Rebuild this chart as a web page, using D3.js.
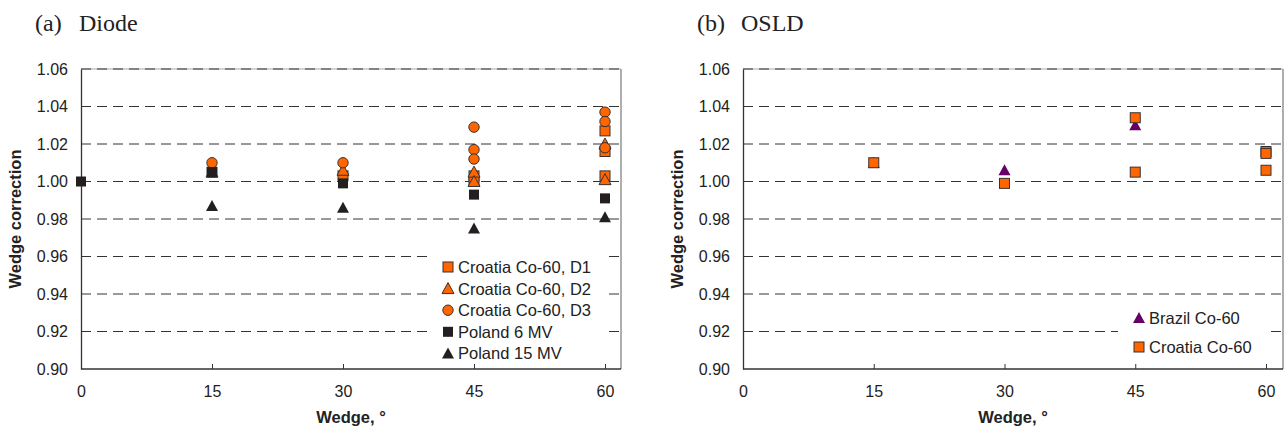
<!DOCTYPE html>
<html><head><meta charset="utf-8">
<script src="https://cdn.jsdelivr.net/npm/d3@7"></script>
<style>body{margin:0;background:#fff}svg{display:block}</style>
</head><body>
<svg id="c" width="1288" height="437"></svg>
<script>
// ---- data ----
const xTicks = [0, 15, 30, 45, 60];
const yTicks = [0.90, 0.92, 0.94, 0.96, 0.98, 1.00, 1.02, 1.04, 1.06];
// Diode panel (wedge angle, correction)
const diodeD1 = [[15,1.005],[30,1.003],[45,1.003],[45,1.000],[60,1.027],[60,1.016],[60,1.003]];
const diodeD2 = [[15,1.005],[30,1.006],[45,1.005],[45,1.000],[60,1.020],[60,1.001]];
const diodeD3 = [[15,1.010],[30,1.010],[45,1.029],[45,1.017],[45,1.012],[60,1.037],[60,1.032],[60,1.018]];
const poland6 = [[0,1.000],[15,1.005],[30,0.999],[45,0.993],[60,0.991]];
const poland15 = [[15,0.987],[30,0.986],[45,0.975],[60,0.981]];
// OSLD panel
const brazilOSLD = [[15,1.010],[30,1.006],[45,1.030]];
const croatiaOSLD = [[15,1.010],[30,0.999],[45,1.034],[45,1.005],[60,1.016],[60,1.015],[60,1.006]];
const diodeLabels = ["Croatia Co-60, D1","Croatia Co-60, D2","Croatia Co-60, D3","Poland 6 MV","Poland 15 MV"];
const osldLabels = ["Brazil Co-60","Croatia Co-60"];

const ORANGE = "#ff6600", BLACK = "#231f20", PURPLE = "#660066", EDGE = "#3a3030";
const svg = d3.select("#c");

function marker(g, shape, fill, stroke, x, y) {
  if (shape === "square") {
    g.append("rect").attr("x", x-5).attr("y", y-5).attr("width", 10).attr("height", 10)
      .attr("fill", fill).attr("stroke", stroke || "none").attr("stroke-width", 1);
  } else if (shape === "circle") {
    g.append("circle").attr("cx", x).attr("cy", y).attr("r", 5.2)
      .attr("fill", fill).attr("stroke", stroke || "none").attr("stroke-width", 1);
  } else {
    g.append("path").attr("d", `M${x},${y-6}L${x+6},${y+5}L${x-6},${y+5}Z`)
      .attr("fill", fill).attr("stroke", stroke || "none").attr("stroke-width", 1);
  }
}

function panel(cfg) {
  const x = d3.scaleLinear().domain([0, 60]).range([cfg.x0, cfg.x60]);
  const y = d3.scaleLinear().domain([0.90, 1.06]).range([369, 69]);
  const g = svg.append("g");
  const right = cfg.right;
  // frame (light) right & top
  g.append("line").attr("x1", right).attr("x2", right).attr("y1", y(1.06)).attr("y2", y(0.90)).attr("stroke", "#777").attr("stroke-width", 1.2);
  g.append("line").attr("x1", cfg.x0).attr("x2", right).attr("y1", y(1.06)).attr("y2", y(1.06)).attr("stroke", "#aaa").attr("stroke-width", 1.2);
  // gridlines
  g.selectAll(".grid").data(yTicks.filter(d => d > 0.9001)).enter().append("line")
    .attr("x1", cfg.x0).attr("x2", right).attr("y1", d => y(d)).attr("y2", d => y(d))
    .attr("stroke", "#333").attr("stroke-width", 1).attr("stroke-dasharray", "10,6");
  // legend background
  g.append("rect").attr("x", cfg.legBox[0]).attr("y", cfg.legBox[1]).attr("width", cfg.legBox[2]).attr("height", cfg.legBox[3]).attr("fill", "#fff");
  // axes
  const ya = d3.axisLeft(y).tickValues(yTicks).tickFormat(d3.format(".2f")).tickSize(0).tickPadding(13);
  const yg = g.append("g").attr("transform", `translate(${cfg.x0},0)`).call(ya);
  yg.select(".domain").attr("stroke", "#333").attr("stroke-width", 1.3);
  yg.selectAll("text").attr("font-family", "Liberation Sans, Arial, sans-serif").attr("font-size", 16).attr("fill", "#222");
  const xa = d3.axisBottom(x).tickValues(xTicks).tickFormat(d3.format("d")).tickSize(-5).tickPadding(17);
  const xg = g.append("g").attr("transform", `translate(0,${y(0.90)})`).call(xa);
  xg.select(".domain").attr("d", `M${cfg.x0},0H${right}`).attr("stroke", "#333").attr("stroke-width", 1.3);
  xg.selectAll(".tick line").attr("stroke", "#333");
  xg.selectAll("text").attr("font-family", "Liberation Sans, Arial, sans-serif").attr("font-size", 16).attr("fill", "#222");
  // titles
  g.append("text").attr("x", (cfg.x0 + right) / 2).attr("y", 423).attr("text-anchor", "middle")
    .attr("font-family", "Liberation Sans, Arial, sans-serif").attr("font-weight", "bold").attr("font-size", 16.5).attr("fill", "#222").text("Wedge, °");
  g.append("text").attr("transform", `translate(${cfg.x0 - 60},${y(0.98)}) rotate(-90)`).attr("text-anchor", "middle")
    .attr("font-family", "Liberation Sans, Arial, sans-serif").attr("font-weight", "bold").attr("font-size", 16.5).attr("fill", "#222").text("Wedge correction");
  const t = g.append("text").attr("y", 31).attr("font-family", "Liberation Serif, Times New Roman, serif").attr("font-size", 24).attr("fill", "#222");
  t.append("tspan").attr("x", cfg.x0 - 46).text(cfg.tag);
  t.append("tspan").attr("x", cfg.x0 - 2).text(cfg.title);
  // series
  const pg = g.append("g");
  cfg.series.forEach(s => s.data.forEach(d => marker(pg, s.shape, s.fill, s.stroke, x(d[0]), y(d[1]))));
  // legend
  const lg = g.append("g");
  cfg.series.forEach((s, i) => {
    const ly = cfg.legY + i * cfg.legDy;
    marker(lg, s.shape, s.fill, s.stroke, cfg.legX, ly);
    lg.append("text").attr("x", cfg.legX + 10).attr("y", ly + 6).attr("font-family", "Liberation Sans, Arial, sans-serif")
      .attr("font-size", 16.5).attr("fill", "#222").text(s.label);
  });
}

panel({
  x0: 81, x60: 605, right: 621, tag: "(a)", title: "Diode",
  legBox: [428, 254, 178, 112], legX: 448, legY: 267, legDy: 21.6,
  series: [
    {data: diodeD1, shape: "square", fill: ORANGE, stroke: EDGE, label: diodeLabels[0]},
    {data: diodeD2, shape: "triangle", fill: ORANGE, stroke: EDGE, label: diodeLabels[1]},
    {data: diodeD3, shape: "circle", fill: ORANGE, stroke: EDGE, label: diodeLabels[2]},
    {data: poland6, shape: "square", fill: BLACK, stroke: null, label: diodeLabels[3]},
    {data: poland15, shape: "triangle", fill: BLACK, stroke: null, label: diodeLabels[4]}
  ]
});
panel({
  x0: 743, x60: 1266, right: 1283, tag: "(b)", title: "OSLD",
  legBox: [1118, 302, 150, 62], legX: 1139, legY: 318, legDy: 29,
  series: [
    {data: brazilOSLD, shape: "triangle", fill: PURPLE, stroke: null, label: osldLabels[0]},
    {data: croatiaOSLD, shape: "square", fill: ORANGE, stroke: EDGE, label: osldLabels[1]}
  ]
});
</script>
</body></html>
